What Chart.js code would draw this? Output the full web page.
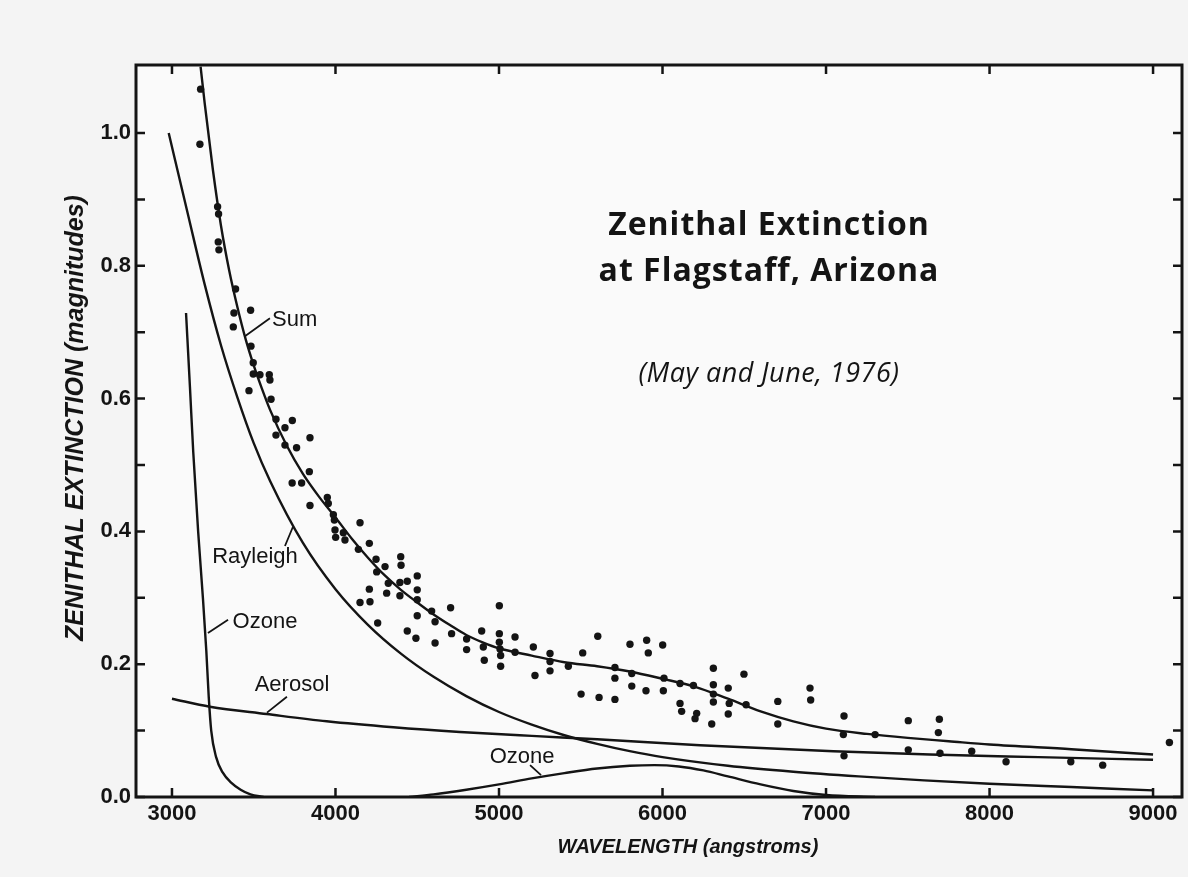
<!DOCTYPE html>
<html><head><meta charset="utf-8">
<script src="https://cdn.jsdelivr.net/npm/chart.js@4.4.1/dist/chart.umd.min.js"></script>
<style>html,body{margin:0;padding:0;background:#f6f6f6;}#wrap{width:1188px;height:877px;}</style>
</head><body><div id="wrap"><canvas id="c" width="1188" height="877"></canvas></div>
<script>
// ---- data ----
const xTickValues = [3000, 4000, 5000, 6000, 7000, 8000, 9000];
const yTickValues = [0.0, 0.2, 0.4, 0.6, 0.8, 1.0];
const yMinorTicks = [0.0, 0.1, 0.2, 0.3, 0.4, 0.5, 0.6, 0.7, 0.8, 0.9, 1.0];

const sumX = [3175, 3200, 3250, 3300, 3350, 3400, 3450, 3500, 3550, 3600, 3700, 3800, 3900, 4000, 4100, 4200, 4300, 4400, 4500, 4600, 4700, 4800, 4900, 5000, 5200, 5400, 5600, 5800, 6000, 6200, 6400, 6600, 6800, 7000, 7250, 7500, 7750, 8000, 8500, 9000];
const sumY = [1.10, 1.045, 0.945, 0.860, 0.793, 0.738, 0.690, 0.650, 0.615, 0.583, 0.530, 0.487, 0.452, 0.421, 0.389, 0.360, 0.334, 0.312, 0.293, 0.275, 0.259, 0.244, 0.233, 0.224, 0.213, 0.203, 0.197, 0.189, 0.178, 0.166, 0.148, 0.129, 0.114, 0.103, 0.095, 0.089, 0.084, 0.079, 0.072, 0.064];

const rayleighX = [2980, 3100, 3200, 3300, 3400, 3500, 3600, 3800, 4000, 4200, 4400, 4600, 4800, 5000, 5200, 5400, 5600, 5800, 6000, 6400, 6800, 7200, 7600, 8000, 8500, 9000];
const rayleighY = [1.00, 0.875, 0.772, 0.680, 0.602, 0.533, 0.476, 0.383, 0.313, 0.259, 0.216, 0.181, 0.152, 0.128, 0.109, 0.093, 0.080, 0.069, 0.060, 0.047, 0.038, 0.031, 0.025, 0.020, 0.015, 0.010];

const aerosolX = [3000, 3232, 3579, 3946, 4354, 4761, 5200, 5600, 6229, 7045, 7636, 8300, 9000];
const aerosolY = [0.148, 0.136, 0.125, 0.114, 0.105, 0.098, 0.092, 0.087, 0.078, 0.069, 0.064, 0.060, 0.056];

const ozoneUvX = [3086, 3110, 3130, 3160, 3190, 3210, 3225, 3240, 3270, 3310, 3360, 3420, 3480, 3560];
const ozoneUvY = [0.729, 0.617, 0.520, 0.400, 0.297, 0.220, 0.150, 0.100, 0.060, 0.037, 0.022, 0.011, 0.004, 0.0];

const ozoneVisX = [4450, 4600, 4800, 5000, 5200, 5400, 5600, 5800, 5950, 6100, 6250, 6400, 6600, 6800, 7000, 7300];
const ozoneVisY = [0.0, 0.004, 0.011, 0.019, 0.028, 0.036, 0.043, 0.047, 0.048, 0.046, 0.040, 0.031, 0.019, 0.009, 0.003, 0.0];

const obsX = [3175,3171,3279,3285,3283,3287,3389,3379,3481,3375,3483,3497,3497,3538,3595,3599,3471,3606,3636,3736,3691,3636,3844,3691,3762,3735,
 3840,3793,3844,3950,3956,3987,3993,3997,4001,4048,4058,4150,4140,4207,4248,4252,4303,4399,4401,4207,4150,4211,4258,4323,4313,4394,4439,4394,4500,4500,4500,4500,4439,4492,4588,4609,4609,4704,4710,4802,4802,4894,4904,4910,5002,5002,5002,5006,5010,5010,5098,5098,
 5210,5220,5312,5312,5312,5424,5512,5502,5604,5612,5709,5709,5709,5801,5812,5812,5903,5913,5899,6001,6009,6005,6107,6107,6117,6189,6209,6199,6311,6311,6311,6311,6301,
 6402,6408,6402,6498,6511,6705,6705,6902,6906,7110,7106,7110,7300,7503,7503,7693,7687,7697,
 7891,8101,8497,8692,9100];
const obsY = [1.066,0.983,0.889,0.878,0.836,0.824,0.765,0.729,0.733,0.708,0.679,0.654,0.637,0.636,0.636,0.628,0.612,0.599,0.569,0.567,0.556,0.545,0.541,0.530,0.526,0.473,
 0.490,0.473,0.439,0.451,0.442,0.425,0.417,0.402,0.391,0.398,0.387,0.413,0.373,0.382,0.358,0.339,0.347,0.362,0.349,0.313,0.293,0.294,0.262,0.322,0.307,0.323,0.325,0.303,0.333,0.312,0.297,0.273,0.250,0.239,0.280,0.264,0.232,0.285,0.246,0.238,0.222,0.250,0.226,0.206,0.288,0.246,0.233,0.223,0.213,0.197,0.241,0.218,
 0.226,0.183,0.216,0.204,0.190,0.197,0.217,0.155,0.242,0.150,0.195,0.179,0.147,0.230,0.186,0.167,0.236,0.217,0.160,0.229,0.179,0.160,0.171,0.141,0.129,0.168,0.126,0.118,0.194,0.169,0.155,0.143,0.110,
 0.164,0.141,0.125,0.185,0.139,0.144,0.110,0.164,0.146,0.122,0.094,0.062,0.094,0.115,0.071,0.117,0.097,0.066,
 0.069,0.053,0.053,0.048,0.082];

const curveLabels = ['Sum', 'Rayleigh', 'Ozone', 'Aerosol', 'Ozone'];
const titleLines = ['Zenithal Extinction', 'at Flagstaff, Arizona'];
const subtitleText = '(May and June, 1976)';
const xTitle = 'WAVELENGTH (angstroms)';
const yTitle = 'ZENITHAL EXTINCTION (magnitudes)';

// ---- presentation ----
const INK = '#141414';
const zip = (xs, ys) => xs.map((x, i) => ({x, y: ys[i]}));
const labelPos = [[3612, 0.718, 'left'], [3508, 0.361, 'center'], [3569, 0.264, 'center'], [3734, 0.169, 'center'], [5141, 0.060, 'center']];
const leaders = [[3599, 0.721, 3446, 0.694], [3691, 0.378, 3740, 0.407], [3343, 0.267, 3220, 0.247], [3703, 0.151, 3581, 0.127], [5190, 0.048, 5257, 0.033]];

const curve = (data) => ({type: 'line', data, showLine: true, borderColor: INK, borderWidth: 2.4, pointRadius: 0, cubicInterpolationMode: 'monotone', fill: false});

const framePlugin = {
  id: 'framePlugin',
  beforeDraw(chart) {
    const {ctx, width, height} = chart;
    ctx.save();
    ctx.fillStyle = '#f4f4f4';
    ctx.fillRect(0, 0, width, height);
    const a = chart.chartArea;
    ctx.fillStyle = '#fafafa';
    ctx.fillRect(a.left, a.top, a.right - a.left, a.bottom - a.top);
    ctx.restore();
  },
  afterDatasetsDraw(chart) {
    const {ctx} = chart;
    const a = chart.chartArea;
    const xs = chart.scales.x, ys = chart.scales.y;
    ctx.save();
    ctx.strokeStyle = INK;
    ctx.lineWidth = 3;
    ctx.strokeRect(a.left, a.top, a.right - a.left, a.bottom - a.top);
    ctx.lineWidth = 2.5;
    ctx.beginPath();
    const tl = 9;
    xTickValues.forEach(v => {
      const px = xs.getPixelForValue(v);
      ctx.moveTo(px, a.bottom); ctx.lineTo(px, a.bottom - tl);
      ctx.moveTo(px, a.top); ctx.lineTo(px, a.top + tl);
    });
    yMinorTicks.forEach(v => {
      const py = ys.getPixelForValue(v);
      ctx.moveTo(a.left, py); ctx.lineTo(a.left + tl, py);
      ctx.moveTo(a.right, py); ctx.lineTo(a.right - tl, py);
    });
    ctx.stroke();

    // curve labels and leader lines
    ctx.lineWidth = 1.8;
    ctx.beginPath();
    leaders.forEach(l => {
      ctx.moveTo(xs.getPixelForValue(l[0]), ys.getPixelForValue(l[1]));
      ctx.lineTo(xs.getPixelForValue(l[2]), ys.getPixelForValue(l[3]));
    });
    ctx.stroke();
    ctx.fillStyle = INK;
    ctx.font = '22px "Liberation Sans", Arial, sans-serif';
    ctx.textBaseline = 'middle';
    curveLabels.forEach((t, i) => {
      ctx.textAlign = labelPos[i][2];
      ctx.fillText(t, xs.getPixelForValue(labelPos[i][0]), ys.getPixelForValue(labelPos[i][1]));
    });

    // axis titles
    ctx.textAlign = 'center';
    ctx.font = 'italic bold 20px "Liberation Sans", Arial, sans-serif';
    ctx.fillText(xTitle, 688, 847);
    ctx.save();
    ctx.translate(76, 418);
    ctx.rotate(-Math.PI / 2);
    ctx.font = 'italic bold 25px "Liberation Sans", Arial, sans-serif';
    ctx.fillText(yTitle, 0, 0);
    ctx.restore();

    // title block
    const cx = xs.getPixelForValue(6651);
    ctx.textAlign = 'center';
    ctx.textBaseline = 'alphabetic';
    ctx.font = 'bold 32px "Open Sans", "Noto Sans", sans-serif';
    try { ctx.letterSpacing = '1px'; } catch (e) {}
    ctx.fillText(titleLines[0], cx, ys.getPixelForValue(0.846));
    ctx.fillText(titleLines[1], cx, ys.getPixelForValue(0.777));
    ctx.font = 'italic 27px "Open Sans", "Noto Sans", sans-serif';
    try { ctx.letterSpacing = '0.5px'; } catch (e) {}
    ctx.fillText(subtitleText, cx, ys.getPixelForValue(0.625));
    ctx.restore();
  }
};

new Chart(document.getElementById('c'), {
  type: 'scatter',
  data: {
    datasets: [
      curve(zip(sumX, sumY)),
      curve(zip(rayleighX, rayleighY)),
      curve(zip(aerosolX, aerosolY)),
      curve(zip(ozoneUvX, ozoneUvY)),
      curve(zip(ozoneVisX, ozoneVisY)),
      {type: 'scatter', data: zip(obsX, obsY), pointRadius: 3.7, pointBackgroundColor: INK, pointBorderWidth: 0, showLine: false}
    ]
  },
  options: {
    responsive: false,
    animation: false,
    devicePixelRatio: 1,
    layout: {padding: {top: 65, right: 6, left: 0, bottom: 0}},
    plugins: {legend: {display: false}, tooltip: {enabled: false}},
    scales: {
      x: {
        type: 'linear', min: 2780, max: 9177,
        grid: {display: false, drawTicks: false},
        border: {display: false},
        afterBuildTicks: s => { s.ticks = xTickValues.map(v => ({value: v})); },
        afterFit: s => { s.height = 80; },
        ticks: {color: INK, padding: 4, font: {family: '"Liberation Sans", Arial, sans-serif', size: 22, weight: 'bold'}, callback: v => String(v)},
        title: {display: false, text: xTitle}
      },
      y: {
        type: 'linear', min: 0, max: 1.1024,
        grid: {display: false, drawTicks: false},
        border: {display: false},
        afterBuildTicks: s => { s.ticks = yTickValues.map(v => ({value: v})); },
        afterFit: s => { s.width = 136; },
        ticks: {color: INK, padding: 5, font: {family: '"Liberation Sans", Arial, sans-serif', size: 22, weight: 'bold'}, callback: v => Number(v).toFixed(1)},
        title: {display: false, text: yTitle}
      }
    }
  },
  plugins: [framePlugin]
});
</script></body></html>
